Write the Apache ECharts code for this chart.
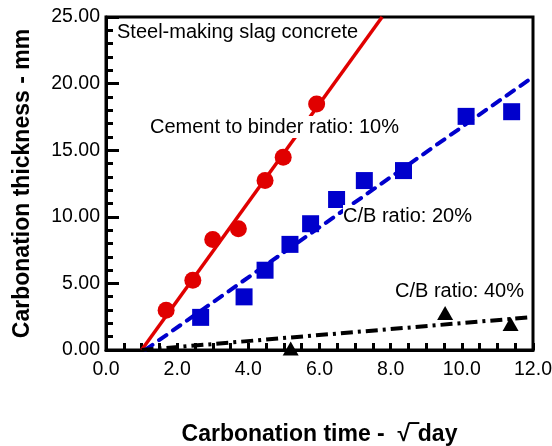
<!DOCTYPE html>
<html>
<head>
<meta charset="utf-8">
<script src="https://cdn.jsdelivr.net/npm/echarts@6/dist/echarts.min.js"></script>
<style>
  html, body { margin: 0; padding: 0; background: #fff; }
  #chart { width: 552px; height: 446px; }
</style>
</head>
<body>
<div id="chart"></div>
<script>
// Measured carbonation depth vs. square root of exposure time
var redX = [1.69, 2.44, 3.0, 3.72, 4.47, 4.98, 5.92];
var redY = [2.99, 5.24, 8.3, 9.1, 12.72, 14.47, 18.46];
var blueX = [2.66, 3.88, 4.47, 5.17, 5.75, 6.48, 7.26, 8.36, 10.12, 11.40];
var blueY = [2.45, 3.99, 5.99, 7.93, 9.48, 11.3, 12.72, 13.47, 17.54, 17.89];
var blackX = [5.19, 9.53, 11.37];
var blackY = [0.12, 2.77, 1.95];

// Fitted regression lines (start and end points)
var redFit = [[1.0, 0], [7.76, 25]];
var blueFit = [[1.1, 0], [12, 20.5]];
var blackFit = [[1.0, 0], [12, 2.47]];

// Axis settings
var xMin = 0, xMax = 12, xStep = 2;
var yMin = 0, yMax = 25, yStep = 5;

function zip(xs, ys) { return xs.map(function (x, i) { return [x, ys[i]]; }); }

var FONT = "'Liberation Sans', Arial, sans-serif";
var RED = '#e00000', BLUE = '#0000cc', BLACK = '#000000';

var chart = echarts.init(document.getElementById('chart'), null, { renderer: 'canvas' });

chart.setOption({
  backgroundColor: '#ffffff',
  animation: false,
  grid: {
    left: 106, right: 19, top: 17, bottom: 96,
    outerBoundsMode: 'none', containLabel: false,
    show: true, borderColor: '#000', borderWidth: 3, backgroundColor: 'transparent'
  },
  xAxis: {
    type: 'value', min: xMin, max: xMax, interval: xStep,
    name: 'Carbonation time -  √\u203Eday',
    nameLocation: 'middle', nameGap: 73,
    nameTextStyle: { fontFamily: FONT, fontSize: 23, fontWeight: 'bold', color: '#000' },
    axisLine: { show: true, onZero: false, lineStyle: { color: '#000', width: 3 } },
    axisTick: { show: true, inside: true, length: 7, lineStyle: { color: '#000', width: 3 } },
    minorTick: { show: true, splitNumber: 4, length: 7, lineStyle: { color: '#000', width: 3 } },
    splitLine: { show: false },
    axisLabel: {
      fontFamily: FONT, fontSize: 19.5, color: '#000', margin: 10,
      formatter: function (v) { return v.toFixed(1); }
    }
  },
  yAxis: {
    type: 'value', min: yMin, max: yMax, interval: yStep,
    name: 'Carbonation thickness - mm',
    nameLocation: 'middle', nameGap: 72, nameRotate: 90,
    nameTextStyle: { fontFamily: FONT, fontSize: 23, fontWeight: 'bold', color: '#000' },
    axisLine: { show: true, onZero: false, lineStyle: { color: '#000', width: 3 } },
    axisTick: { show: true, inside: true, length: 13, lineStyle: { color: '#000', width: 3 } },
    minorTick: { show: true, splitNumber: 5, length: 7, lineStyle: { color: '#000', width: 3 } },
    splitLine: { show: false },
    axisLabel: {
      fontFamily: FONT, fontSize: 19.5, color: '#000', margin: 6,
      formatter: function (v) { return v.toFixed(2); }
    }
  },
  series: [
    {
      type: 'line', data: redFit, symbol: 'none', clip: true, z: 2,
      lineStyle: { color: RED, width: 3.5, type: 'solid' }
    },
    {
      type: 'line', data: blueFit, symbol: 'none', clip: true, z: 2,
      lineStyle: { color: BLUE, width: 4, type: [9, 8], cap: 'round' }
    },
    {
      type: 'line', data: blackFit, symbol: 'none', clip: true, z: 2,
      lineStyle: { color: BLACK, width: 4, type: [12, 5, 3, 5] }
    },
    {
      type: 'scatter', data: zip(redX, redY), symbol: 'circle', symbolSize: 17, z: 3,
      itemStyle: { color: RED, opacity: 1 }
    },
    {
      type: 'scatter', data: zip(blueX, blueY), symbol: 'rect', symbolSize: 17, z: 3,
      itemStyle: { color: BLUE, opacity: 1 }
    },
    {
      type: 'scatter', data: zip(blackX, blackY), symbol: 'triangle', symbolSize: [16, 14], z: 3,
      itemStyle: { color: BLACK, opacity: 1 }
    }
  ],
  graphic: [
    {
      type: 'text', left: 117, top: 22, z: 100,
      style: { text: 'Steel-making slag concrete', font: '20px ' + FONT, fill: '#000', backgroundColor: '#fff' }
    },
    {
      type: 'text', left: 150, top: 116, z: 100,
      style: { text: 'Cement to binder ratio: 10%', font: '20px ' + FONT, fill: '#000', backgroundColor: '#fff', padding: [1, 0] }
    },
    {
      type: 'text', left: 343, top: 205, z: 100,
      style: { text: 'C/B ratio: 20%', font: '20px ' + FONT, fill: '#000', backgroundColor: '#fff', padding: [1, 0] }
    },
    {
      type: 'text', left: 395, top: 281, z: 100,
      style: { text: 'C/B ratio: 40%', font: '20px ' + FONT, fill: '#000' }
    }
  ]
});
</script>
</body>
</html>
